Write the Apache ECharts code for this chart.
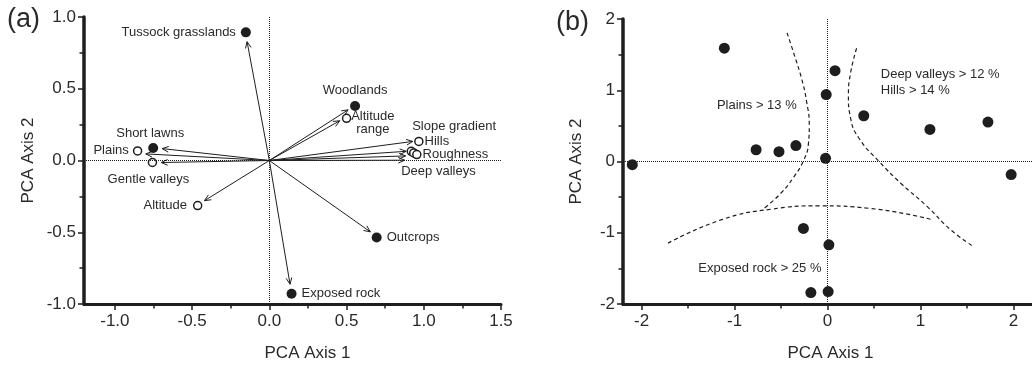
<!DOCTYPE html>
<html>
<head>
<meta charset="utf-8">
<script src="https://cdn.jsdelivr.net/npm/echarts@6/dist/echarts.min.js"></script>
<style>html,body{margin:0;padding:0;background:#fff}#c{width:1032px;height:367px}</style>
</head>
<body>
<div id="c"></div>
<script>
// ---------- Panel (a) data ----------
const xTicksA = [-1, -0.5, 0, 0.5, 1, 1.5];
const xMinorA = [-0.75, -0.25, 0.25, 0.75, 1.25];
const filledA = [
  { name: 'Tussock grasslands', value: [-0.152, 0.893] },
  { name: 'Woodlands', value: [0.555, 0.38] },
  { name: 'Short lawns', value: [-0.752, 0.087] },
  { name: 'Outcrops', value: [0.695, -0.537] },
  { name: 'Exposed rock', value: [0.144, -0.929] }
];
const openA = [
  { name: 'Altitude\nrange', value: [0.50, 0.294] },
  { name: 'Hills', value: [0.968, 0.133] },
  { name: '', value: [0.919, 0.064] },
  { name: '', value: [0.935, 0.053] },
  { name: 'Roughness', value: [0.955, 0.041] },
  { name: 'Plains', value: [-0.853, 0.067] },
  { name: 'Gentle valleys', value: [-0.757, -0.014] },
  { name: 'Altitude', value: [-0.464, -0.314] }
];
const arrowTipsA = [
  [-0.144, 0.828], [0.51, 0.353], [0.456, 0.277], [0.929, 0.133],
  [0.886, 0.064], [0.882, 0.032], [0.876, 0.002],
  [-0.694, 0.083], [-0.80, 0.046], [-0.70, -0.014],
  [-0.42, -0.28], [0.654, -0.497], [0.134, -0.862]
];
const notesA = [
  { name: 'Slope gradient', value: [0.925, 0.239] },
  { name: 'Deep valleys', value: [0.854, -0.074] }
];

// ---------- Panel (b) data ----------
const xTicksB = [-2, -1, 0, 1, 2];
const xMinorB = [-1.5, -0.5, 0.5, 1.5];
const pointsB = [
  [-2.10, -0.045], [-1.11, 1.59], [-0.768, 0.165], [-0.522, 0.138], [-0.34, 0.224],
  [-0.014, 0.94], [0.081, 1.275], [-0.021, 0.045], [0.39, 0.642], [1.102, 0.45],
  [1.726, 0.554], [1.976, -0.183], [-0.259, -0.94], [0.015, -1.17], [-0.179, -1.84], [0.007, -1.825]
];
const curvePlains = [
  [-0.435, 1.806], [-0.364, 1.523], [-0.277, 1.155], [-0.224, 0.835], [-0.196, 0.513],
  [-0.206, 0.238], [-0.259, 0.01], [-0.364, -0.22], [-0.505, -0.45], [-0.68, -0.656]
];
const curveDeep = [
  [0.313, 1.59], [0.249, 1.248], [0.225, 0.926], [0.249, 0.605], [0.337, 0.33],
  [0.565, -0.014], [0.794, -0.312], [1.074, -0.633], [1.32, -0.953], [1.558, -1.183]
];
const curveRock = [
  [-1.716, -1.146], [-1.137, -0.816], [-0.611, -0.67], [-0.084, -0.623], [0.442, -0.656], [1.126, -0.816]
];
const notesB = [
  { name: 'Plains > 13 %', value: [-1.19, 0.79] },
  { name: 'Deep valleys > 12 %', value: [0.573, 1.224] },
  { name: 'Hills > 14 %', value: [0.573, 0.995] },
  { name: 'Exposed rock > 25 %', value: [-1.39, -1.495] }
];

// ---------- styling ----------
const INK = '#1e1e1e';
const TXT = '#2a2a2a';
const FONT = '"Liberation Sans", Arial, sans-serif';
const labelCfgA = {
  'Tussock grasslands': { position: 'left', distance: 5 },
  'Woodlands': { position: 'top', distance: 4 },
  'Short lawns': { position: 'top', distance: 3, offset: [-3, 0] },
  'Outcrops': { position: 'right', distance: 5 },
  'Exposed rock': { position: 'right', distance: 5 },
  'Altitude\nrange': { position: [31, 9], align: 'center', verticalAlign: 'middle', lineHeight: 13 },
  'Hills': { position: 'right', distance: 1 },
  'Roughness': { position: 'right', distance: 1 },
  'Plains': { position: 'left', distance: 4 },
  'Gentle valleys': { position: 'bottom', distance: 6, offset: [-4, 0] },
  'Altitude': { position: 'left', distance: 6 }
};
function withLabels(arr) {
  return arr.map(d => {
    const cfg = labelCfgA[d.name];
    return cfg ? { name: d.name, value: d.value, label: Object.assign({ show: true }, cfg) }
               : { name: d.name, value: d.value, label: { show: false } };
  });
}
const lblStyle = { color: TXT, fontSize: 13, fontFamily: FONT, formatter: p => p.name };

function xAxisMain(grid, min, max, ticks, fmt, namePad) {
  return {
    type: 'value', gridIndex: grid, min: min, max: max, position: 'bottom',
    name: 'PCA Axis 1', nameLocation: 'middle', nameGap: 41,
    nameTextStyle: { fontSize: 17, color: TXT, fontFamily: FONT, padding: [0, 0, 0, namePad] },
    axisLine: { onZero: false, lineStyle: { color: INK, width: 3 } },
    axisTick: { show: true, customValues: ticks, length: 6, lineStyle: { color: INK, width: 1.5 } },
    axisLabel: { customValues: ticks, formatter: fmt, margin: 9, fontSize: 17, color: TXT, fontFamily: FONT },
    splitLine: { show: false }
  };
}
function xAxisMinor(grid, min, max, ticks) {
  return {
    type: 'value', gridIndex: grid, min: min, max: max, position: 'bottom',
    axisLine: { show: false, onZero: false },
    axisTick: { show: true, customValues: ticks, length: 4.5, lineStyle: { color: INK, width: 1.5 } },
    axisLabel: { show: false }, splitLine: { show: false }
  };
}
function yAxis(grid, min, max, interval, fmt, gap) {
  return {
    type: 'value', gridIndex: grid, min: min, max: max, interval: interval,
    name: 'PCA Axis 2', nameLocation: 'middle', nameGap: gap,
    nameTextStyle: { fontSize: 17, color: TXT, fontFamily: FONT },
    axisLine: { onZero: false, lineStyle: { color: INK, width: 3.5 } },
    axisTick: { show: true, length: 6, lineStyle: { color: INK, width: 1.5 } },
    minorTick: { show: true, splitNumber: 2, length: 4.5, lineStyle: { color: INK, width: 1.5 } },
    axisLabel: { formatter: fmt, margin: 8, fontSize: 17, color: TXT, fontFamily: FONT },
    splitLine: { show: false }, minorSplitLine: { show: false }
  };
}
const zeroLines = {
  silent: true, symbol: 'none', label: { show: false },
  lineStyle: { color: INK, width: 1, type: 'dotted', opacity: 1 },
  data: [{ xAxis: 0 }, { yAxis: 0 }]
};

function renderArrow(params, api) {
  const p0 = api.coord([0, 0]);
  const p1 = api.coord([api.value(0), api.value(1)]);
  const ang = Math.atan2(p1[1] - p0[1], p1[0] - p0[0]);
  const L = 7, a = 0.42;
  const h1 = [p1[0] - L * Math.cos(ang - a), p1[1] - L * Math.sin(ang - a)];
  const h2 = [p1[0] - L * Math.cos(ang + a), p1[1] - L * Math.sin(ang + a)];
  return {
    type: 'group', children: [
      { type: 'line', shape: { x1: p0[0], y1: p0[1], x2: p1[0], y2: p1[1] }, style: { stroke: INK, lineWidth: 1 } },
      { type: 'polyline', shape: { points: [h1, p1, h2] }, style: { stroke: INK, fill: null, lineWidth: 1 } }
    ]
  };
}
const fmt1 = v => v.toFixed(1);
const fmt0 = v => String(Math.round(v));
const curveStyle = { color: INK, width: 1.2, type: [4, 3] };

const chart = echarts.init(document.getElementById('c'), null, { renderer: 'canvas' });
chart.setOption({
  animation: false,
  backgroundColor: '#fff',
  textStyle: { fontFamily: FONT },
  grid: [
    { left: 84, top: 17, width: 417, height: 291 },
    { left: 623, top: 19, width: 418, height: 291 }
  ],
  xAxis: [
    xAxisMain(0, -1.2, 1.5, xTicksA, fmt1, 30),
    xAxisMinor(0, -1.2, 1.5, xMinorA),
    xAxisMain(1, -2.2, 2.2, xTicksB, fmt0, 6),
    xAxisMinor(1, -2.2, 2.2, xMinorB)
  ],
  yAxis: [
    yAxis(0, -1, 1, 0.5, fmt1, 47),
    yAxis(1, -2, 2, 1, fmt0, 38)
  ],
  graphic: [
    { type: 'text', left: 7, top: 6, style: { text: '(a)', fontSize: 27, fill: TXT, fontFamily: FONT } },
    { type: 'text', left: 556, top: 9, style: { text: '(b)', fontSize: 27, fill: TXT, fontFamily: FONT } }
  ],
  series: [
    // panel a
    { type: 'custom', xAxisIndex: 0, yAxisIndex: 0, renderItem: renderArrow, data: arrowTipsA,
      encode: { x: 0, y: 1 }, clip: false, z: 2, silent: true, markLine: zeroLines },
    { type: 'scatter', xAxisIndex: 0, yAxisIndex: 0, data: withLabels(openA), symbol: 'circle', symbolSize: 8,
      itemStyle: { color: '#fff', borderColor: INK, borderWidth: 1.5, opacity: 1 }, label: lblStyle, z: 3 },
    { type: 'scatter', xAxisIndex: 0, yAxisIndex: 0, data: withLabels(filledA), symbol: 'circle', symbolSize: 10,
      itemStyle: { color: INK, opacity: 1 }, label: lblStyle, z: 4 },
    { type: 'scatter', xAxisIndex: 0, yAxisIndex: 0, data: notesA, symbolSize: 0, itemStyle: { opacity: 1 },
      label: Object.assign({ show: true, position: 'right', distance: 0 }, lblStyle), z: 4 },
    // panel b
    { type: 'line', xAxisIndex: 2, yAxisIndex: 1, data: curvePlains, smooth: true, showSymbol: false,
      lineStyle: curveStyle, z: 2, silent: true, markLine: zeroLines },
    { type: 'line', xAxisIndex: 2, yAxisIndex: 1, data: curveDeep, smooth: true, showSymbol: false,
      lineStyle: curveStyle, z: 2, silent: true },
    { type: 'line', xAxisIndex: 2, yAxisIndex: 1, data: curveRock, smooth: true, showSymbol: false,
      lineStyle: curveStyle, z: 2, silent: true },
    { type: 'scatter', xAxisIndex: 2, yAxisIndex: 1, data: pointsB, symbol: 'circle', symbolSize: 11,
      itemStyle: { color: INK, opacity: 1 }, z: 4 },
    { type: 'scatter', xAxisIndex: 2, yAxisIndex: 1, data: notesB, symbolSize: 0, itemStyle: { opacity: 1 },
      label: Object.assign({ show: true, position: 'right', distance: 0 }, lblStyle), z: 4 }
  ]
});
</script>
</body>
</html>
